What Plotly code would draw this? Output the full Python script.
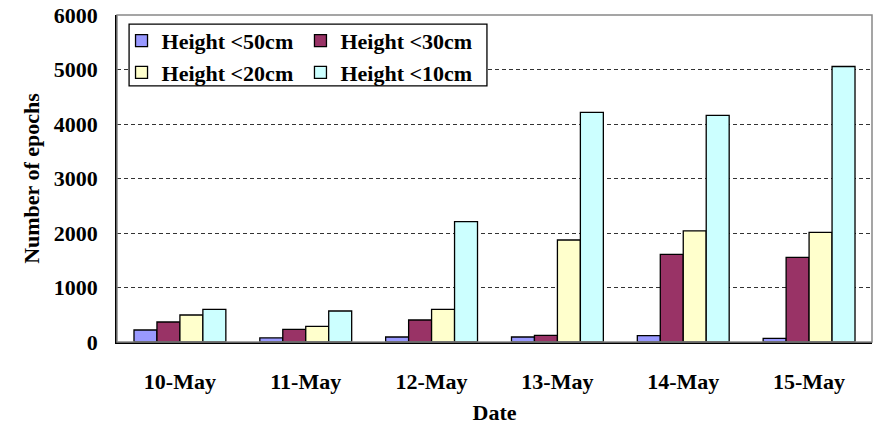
import plotly.graph_objects as go

# Daily counts of epochs by height threshold
dates = ["10-May", "11-May", "12-May", "13-May", "14-May", "15-May"]
h50 = [220, 75, 92, 92, 116, 67]
h30 = [367, 233, 404, 123, 1609, 1554]
h20 = [495, 288, 600, 1872, 2040, 2013]
h10 = [600, 569, 2207, 4214, 4160, 5055]

series_names = ["Height <50cm", "Height <30cm", "Height <20cm", "Height <10cm"]
series_values = [h50, h30, h20, h10]
series_colors = ["#9999FF", "#993366", "#FFFFCC", "#CCFFFF"]
series_legend = ["legend", "legend2", "legend", "legend2"]

FONT = "Liberation Serif"
FS = 22

fig = go.Figure()
for name, vals, color, lg in zip(series_names, series_values, series_colors, series_legend):
    fig.add_trace(go.Bar(
        x=dates, y=vals, name=name,
        marker=dict(color=color, line=dict(color="black", width=1.3)),
        legend=lg,
    ))

legend_style = dict(
    orientation="v", yanchor="top", xanchor="left",
    bgcolor="rgba(0,0,0,0)", borderwidth=0,
    font=dict(family=FONT, size=FS, color="black", weight="bold"),
    itemclick=False, itemdoubleclick=False,
    tracegroupgap=0,
)

fig.update_layout(
    width=874, height=427,
    margin=dict(l=117, r=2, t=15, b=85),
    paper_bgcolor="white", plot_bgcolor="white",
    barmode="group", bargap=0.27, bargroupgap=0,
    font=dict(family=FONT, size=FS, color="black", weight="bold"),
    legend=dict(x=0.006, y=0.985, **legend_style),
    legend2=dict(x=0.243, y=0.985, **legend_style),
    xaxis=dict(
        showline=True, linecolor="black", linewidth=1.5,
        ticks="", showgrid=False,
        ticklabelstandoff=19,
        tickfont=dict(family=FONT, size=FS, weight="bold"),
        title=dict(text="Date", standoff=11,
                   font=dict(family=FONT, size=FS, weight="bold")),
    ),
    yaxis=dict(
        range=[0, 6000], dtick=1000, tick0=0,
        showline=True, linecolor="black", linewidth=1.5,
        ticks="", zeroline=False,
        showgrid=True, gridcolor="#333333", gridwidth=1, griddash="4px,3px",
        ticklabelstandoff=13,
        tickfont=dict(family=FONT, size=FS, weight="bold"),
        title=dict(text="Number of epochs", standoff=8,
                   font=dict(family=FONT, size=FS, weight="bold")),
    ),
    shapes=[
        # plot area frame
        dict(type="rect", xref="x domain", yref="y domain", x0=0, x1=1, y0=0, y1=1,
             line=dict(color="#888888", width=1.5), fillcolor="rgba(0,0,0,0)", layer="above"),
        # legend box
        dict(type="rect", xref="paper", yref="paper", x0=0.016, x1=0.490, y0=0.783, y1=0.972,
             line=dict(color="black", width=1.3), fillcolor="white", layer="above"),
    ],
)

fig.write_html("out.html")
